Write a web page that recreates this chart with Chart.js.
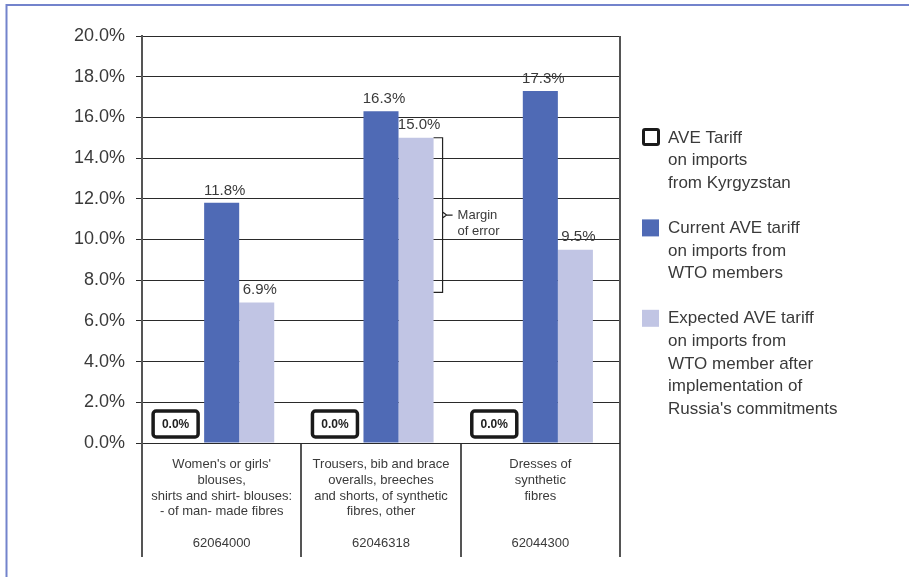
<!DOCTYPE html>
<html lang="en">
<head>
    <meta charset="UTF-8">
    <title>AVE tariffs on imports</title>
    <script src="https://cdn.jsdelivr.net/npm/chart.js"></script>
    <style>
        body {
            margin: 0;
            background: #fff;
            font-family: "Liberation Sans", Arial, sans-serif;
        }
        canvas {
            display: block;
        }
    </style>
</head>
<body>
    <canvas id="tariffChart" width="909" height="577"></canvas>

    <script>
        // Chart data
        const categories = [
            ["Women's or girls'", "blouses,", "shirts and shirt- blouses:", "- of man- made fibres"],
            ["Trousers, bib and brace", "overalls, breeches", "and shorts, of synthetic", "fibres, other"],
            ["Dresses of", "synthetic", "fibres"]
        ];
        const hsCodes = ["62064000", "62046318", "62044300"];
        const kyrgyzTariff = [0, 0, 0];
        const currentTariff = [11.8, 16.3, 17.3];
        const expectedTariff = [6.9, 15.0, 9.5];
        const marginOfError = [7.4, 15.0]; // low / high, on the second category
        const marginLabel = ["Margin", "of error"];
        const legendLabels = [
            ["AVE Tariff", "on imports", "from Kyrgyzstan"],
            ["Current AVE tariff", "on imports from", "WTO members"],
            ["Expected AVE tariff", "on imports from", "WTO member after", "implementation of", "Russia's commitments"]
        ];

        const FONT = '"Liberation Sans", Arial, sans-serif';
        const TEXT = '#3a3a3a';
        const BLUE = '#4f6ab5';
        const LIGHT = '#c1c5e4';

        const fmt = v => v.toFixed(1) + '%';

        // Draws value labels, the 0.0% boxes, margin bracket, legend and frame
        const extrasPlugin = {
            id: 'extras',
            afterDatasetsDraw(chart) {
                const ctx = chart.ctx;
                const area = chart.chartArea;
                const yScale = chart.scales.y;
                ctx.save();

                // right edge of the plot
                ctx.strokeStyle = '#555';
                ctx.lineWidth = 2;
                ctx.beginPath();
                ctx.moveTo(area.right, area.top);
                ctx.lineTo(area.right, area.bottom);
                ctx.stroke();

                // value labels for series 2 and 3
                ctx.fillStyle = TEXT;
                ctx.font = '15px ' + FONT;
                ctx.textAlign = 'center';
                ctx.textBaseline = 'bottom';
                [1, 2].forEach(di => {
                    const meta = chart.getDatasetMeta(di);
                    meta.data.forEach((bar, i) => {
                        const v = chart.data.datasets[di].data[i];
                        ctx.fillText(fmt(v), bar.x + 3, bar.y - 5);
                    });
                });

                // boxed labels for the Kyrgyzstan series
                const meta0 = chart.getDatasetMeta(0);
                meta0.data.forEach((bar, i) => {
                    const v = chart.data.datasets[0].data[i];
                    const cx = bar.x - 11;
                    const w = 45, h = 26;
                    const bottom = yScale.getPixelForValue(v) - 6;
                    ctx.strokeStyle = '#1a1a1a';
                    ctx.lineWidth = 3.5;
                    ctx.beginPath();
                    ctx.roundRect(cx - w / 2, bottom - h, w, h, 3);
                    ctx.stroke();
                    ctx.fillStyle = '#222';
                    ctx.font = 'bold 12px ' + FONT;
                    ctx.textBaseline = 'middle';
                    ctx.fillText(fmt(v), cx, bottom - h / 2 + 1);
                });

                // margin of error bracket
                const lightBar = chart.getDatasetMeta(2).data[1];
                const barRight = lightBar.x + lightBar.width / 2;
                const bx = barRight + 9;
                const yTop = yScale.getPixelForValue(marginOfError[1]);
                const yBot = yScale.getPixelForValue(marginOfError[0]);
                const mid = (yTop + yBot) / 2;
                ctx.strokeStyle = '#222';
                ctx.lineWidth = 1.2;
                ctx.beginPath();
                ctx.moveTo(barRight, yTop);
                ctx.lineTo(bx, yTop);
                ctx.lineTo(bx, yBot);
                ctx.lineTo(barRight, yBot);
                ctx.moveTo(bx, mid - 3);
                ctx.lineTo(bx + 4, mid);
                ctx.lineTo(bx, mid + 3);
                ctx.moveTo(bx + 4, mid);
                ctx.lineTo(bx + 10, mid);
                ctx.stroke();
                ctx.fillStyle = TEXT;
                ctx.font = '13px ' + FONT;
                ctx.textAlign = 'left';
                ctx.textBaseline = 'middle';
                marginLabel.forEach((line, k) => {
                    ctx.fillText(line, bx + 15, mid + k * 16);
                });

                // legend
                const colors = [null, BLUE, LIGHT];
                let ly = 138;
                const lineH = 22.6;
                ctx.font = '17px ' + FONT;
                legendLabels.forEach((lines, i) => {
                    if (i === 0) {
                        ctx.strokeStyle = '#1a1a1a';
                        ctx.lineWidth = 3;
                        ctx.beginPath();
                        ctx.roundRect(643.5, ly - 8.5, 15, 15, 1.5);
                        ctx.stroke();
                    } else {
                        ctx.fillStyle = colors[i];
                        ctx.fillRect(642, ly - 9, 17, 17);
                    }
                    ctx.fillStyle = TEXT;
                    lines.forEach((line, k) => {
                        ctx.fillText(line, 668, ly + k * lineH);
                    });
                    ly += (lines.length + 1) * lineH;
                });

                // outer frame
                ctx.strokeStyle = '#7383cc';
                ctx.lineWidth = 2;
                ctx.beginPath();
                ctx.moveTo(909, 5);
                ctx.lineTo(6.5, 5);
                ctx.lineTo(6.5, 577);
                ctx.stroke();

                ctx.restore();
            }
        };

        const ctx = document.getElementById('tariffChart').getContext('2d');
        new Chart(ctx, {
            type: 'bar',
            data: {
                labels: categories,
                datasets: [
                    { label: 'AVE Tariff on imports from Kyrgyzstan', data: kyrgyzTariff, backgroundColor: 'rgba(0,0,0,0)' },
                    { label: 'Current AVE tariff', data: currentTariff, backgroundColor: BLUE },
                    { label: 'Expected AVE tariff', data: expectedTariff, backgroundColor: LIGHT }
                ]
            },
            options: {
                responsive: false,
                animation: false,
                layout: {
                    padding: { left: 0, top: 36, right: 289, bottom: 20 }
                },
                datasets: {
                    bar: { categoryPercentage: 0.66, barPercentage: 1.0 }
                },
                plugins: {
                    legend: { display: false },
                    tooltip: { enabled: false }
                },
                scales: {
                    x: {
                        weight: 0,
                        grid: { offset: true, drawOnChartArea: false, drawTicks: true, tickLength: 85, color: '#555', lineWidth: 2 },
                        border: { display: false },
                        ticks: { padding: -71, color: TEXT, font: { size: 13, family: FONT }, maxRotation: 0, autoSkip: false },
                        afterFit: s => { s.height = 85; }
                    },
                    x2: {
                        type: 'category',
                        labels: hsCodes,
                        position: 'bottom',
                        offset: true,
                        weight: 1,
                        grid: { offset: true, drawOnChartArea: false, drawTicks: true, tickLength: 29, color: '#555', lineWidth: 2 },
                        border: { display: false },
                        ticks: { padding: -21, color: TEXT, font: { size: 13, family: FONT }, maxRotation: 0, autoSkip: false },
                        afterFit: s => { s.height = 29; }
                    },
                    y: {
                        min: 0,
                        max: 20,
                        ticks: {
                            stepSize: 2,
                            padding: 11,
                            color: TEXT,
                            font: { size: 18, family: FONT },
                            callback: v => fmt(v)
                        },
                        grid: { color: '#2a2a2a', lineWidth: 1, tickLength: 6 },
                        border: { color: '#555', width: 2 },
                        afterFit: s => { s.width = 142; }
                    }
                }
            },
            plugins: [extrasPlugin]
        });
    </script>
</body>
</html>
